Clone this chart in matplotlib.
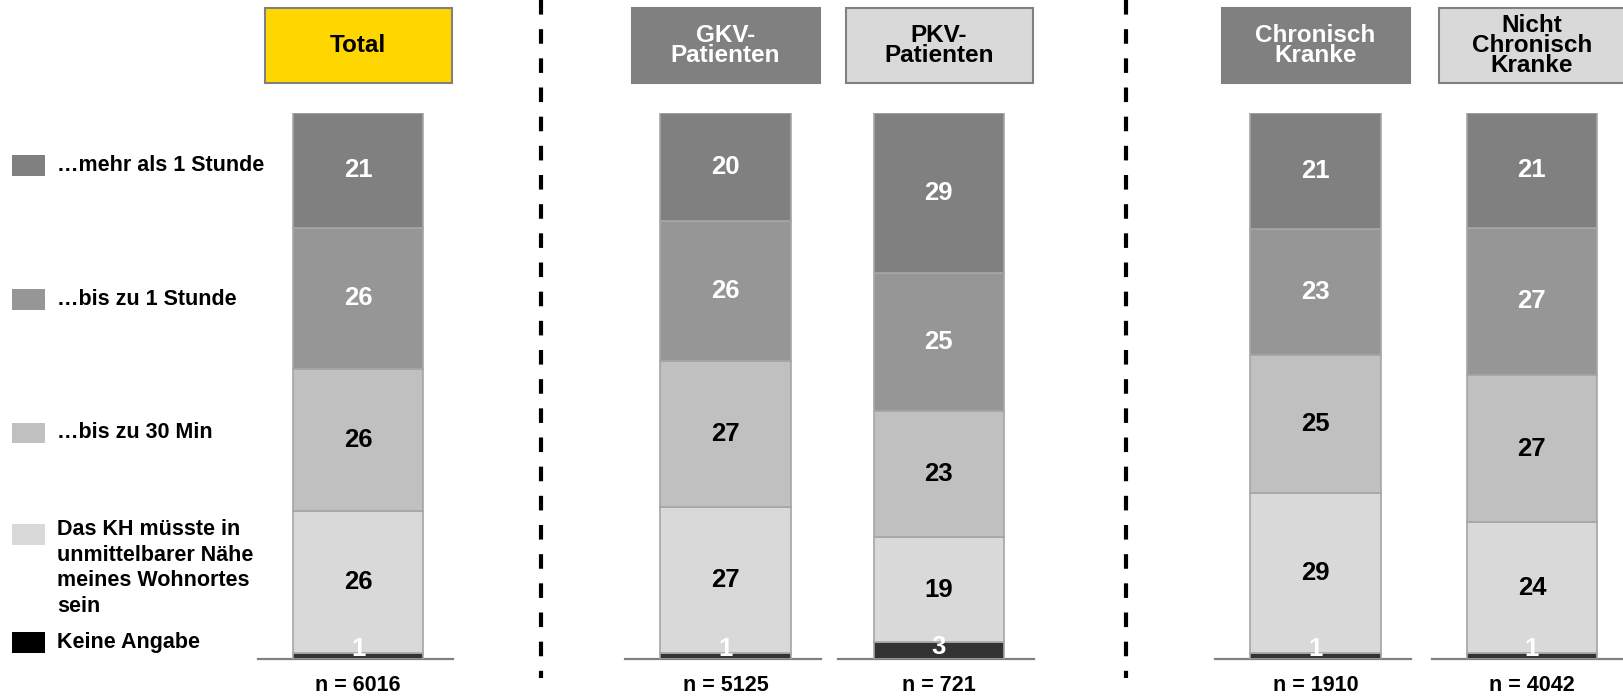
import matplotlib.pyplot as plt
from matplotlib.patches import Rectangle

plt.rcParams['font.family'] = ['Liberation Sans', 'DejaVu Sans']
plt.rcParams['font.weight'] = 'bold'

# Daten (in %)
gruppen = ['Total', 'GKV-\nPatienten', 'PKV-\nPatienten', 'Chronisch\nKranke', 'Nicht\nChronisch\nKranke']
n_werte = ['n = 6016', 'n = 5125', 'n = 721', 'n = 1910', 'n = 4042']
kategorien = ['Keine Angabe',
              'Das KH müsste in\nunmittelbarer Nähe\nmeines Wohnortes\nsein',
              '…bis zu 30 Min', '…bis zu 1 Stunde', '…mehr als 1 Stunde']
keine_angabe = [1, 1, 3, 1, 1]
naehe = [26, 27, 19, 29, 24]
bis_30min = [26, 27, 23, 25, 27]
bis_1h = [26, 26, 25, 23, 27]
mehr_1h = [21, 20, 29, 21, 21]

werte = [keine_angabe, naehe, bis_30min, bis_1h, mehr_1h]
farben = ['#333333', '#D9D9D9', '#C0C0C0', '#969696', '#808080']
text_farben = ['white', 'black', 'black', 'white', 'white']
legend_farben = ['#000000', '#D9D9D9', '#C0C0C0', '#969696', '#808080']

# Layout (Pixel in 1568er Breite)
mitten = [346, 701, 907, 1271, 1480]
breite = 126
kopf_farben = ['#FFD700', '#808080', '#D9D9D9', '#808080', '#D9D9D9']
kopf_text = ['black', 'white', 'black', 'white', 'black']

fig = plt.figure(figsize=(16.23, 6.96), dpi=100)
H = 672.0
unten, oben = 636, 109
ax = fig.add_axes([0, 1 - unten / H, 1, (unten - oben) / H])
ax.set_xlim(0, 1568)
ax.set_ylim(0, 100)
ax.axis('off')
px = 100.0 / (unten - oben)  # Dateneinheiten pro Pixel

# gerundete Werte -> Balken auf 100 % skalieren
summen = [sum(w[i] for w in werte) for i in range(len(gruppen))]

basis = [0.0] * len(gruppen)
for k, reihe in enumerate(werte):
    hoehen = [v * 100.0 / s for v, s in zip(reihe, summen)]
    ax.bar(mitten, hoehen, width=breite, bottom=basis, color=farben[k],
           edgecolor='#A6A6A6', linewidth=1.2, zorder=2)
    for i, v in enumerate(reihe):
        if k == 0:
            y = basis[i] + 1.8 + (hoehen[i] - 1) * 0.15
        else:
            y = basis[i] + hoehen[i] / 2
        ax.text(mitten[i], y, str(v), ha='center', va='center',
                color=text_farben[k], fontsize=18.5, fontweight='bold', zorder=3)
    basis = [b + h for b, h in zip(basis, hoehen)]

# Grundlinien und n-Werte
for i, m in enumerate(mitten):
    ax.plot([m - 97, m + 92], [0, 0], color='#808080', lw=1.6, zorder=1,
            clip_on=False)
    ax.text(m, -26 * px, n_werte[i], ha='center', va='center',
            fontsize=15.5, fontweight='bold', color='black')

# Kopfboxen
for i, m in enumerate(mitten):
    x0 = m - 90
    y0 = (unten - 80) * px
    h = 72 * px
    ax.add_patch(Rectangle((x0, y0), 181, h, facecolor=kopf_farben[i],
                           edgecolor='#808080', lw=1.5, clip_on=False))
    ax.text(m, y0 + h / 2, gruppen[i], ha='center', va='center',
            fontsize=17.5, fontweight='bold', color=kopf_text[i],
            linespacing=0.85)

# Trennlinien
for xl in [523, 1088]:
    ax.plot([xl, xl], [unten * px, (unten - 655) * px], color='black',
            lw=3, linestyle=(0, (3.5, 3.5)), clip_on=False)

# Legende
legend_y = [(unten - 620) * px, (unten - 516) * px, (unten - 418) * px,
            (unten - 289) * px, (unten - 160) * px]
for k in range(len(kategorien)):
    y = legend_y[k]
    ax.add_patch(Rectangle((12, y - 10 * px), 31, 20 * px,
                           facecolor=legend_farben[k], edgecolor='none',
                           clip_on=False))
    if k == 1:
        ax.text(55, y + 15 * px, kategorien[k], ha='left', va='top',
                fontsize=15.5, fontweight='bold', linespacing=1.3)
    else:
        ax.text(55, y, kategorien[k], ha='left', va='center',
                fontsize=15.5, fontweight='bold')

fig.savefig('out.png', dpi=100)
